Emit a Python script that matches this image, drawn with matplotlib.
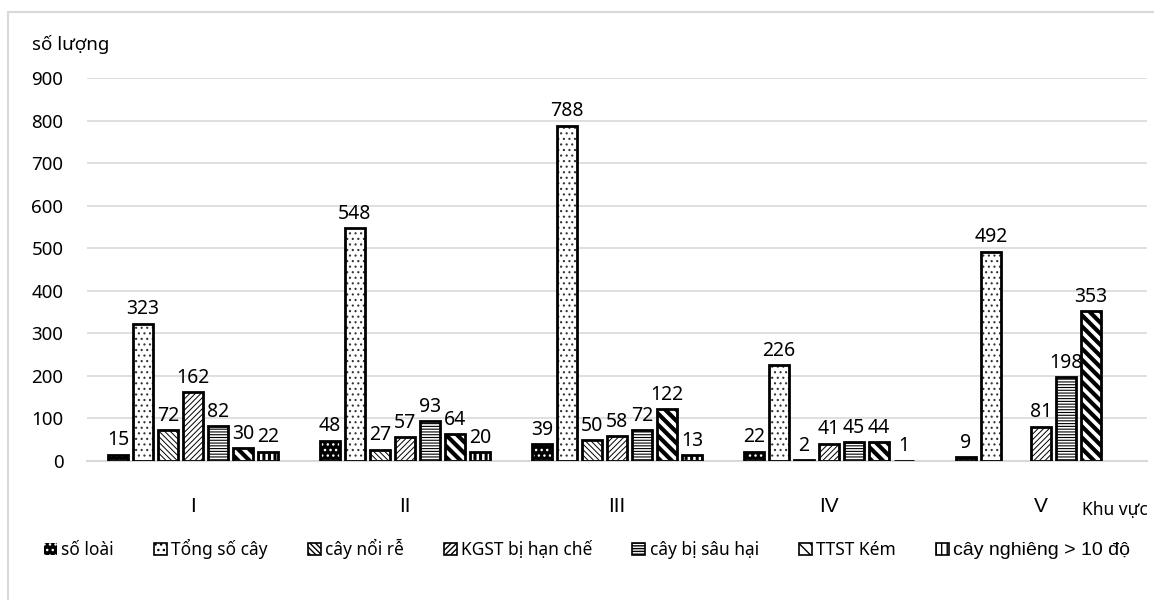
import numpy as np
import matplotlib
matplotlib.use("Agg")
import matplotlib.pyplot as plt
from matplotlib.patches import Patch, Rectangle

plt.rcParams['font.family'] = ['Noto Sans', 'DejaVu Sans']

regions = ["I", "II", "III", "IV", "V"]
series_names = ["số loài", "Tổng số cây", "cây nổi rễ", "KGST bị hạn chế",
                "cây bị sâu hại", "TTST Kém", "cây nghiêng > 10 độ"]

so_loai = [15, 48, 39, 22, 9]
tong_so_cay = [323, 548, 788, 226, 492]
cay_noi_re = [72, 27, 50, 2, np.nan]
kgst_han_che = [162, 57, 58, 41, 81]
cay_sau_hai = [82, 93, 72, 45, 198]
ttst_kem = [30, 64, 122, 44, 353]
cay_nghieng = [22, 20, 13, 1, np.nan]

series = [so_loai, tong_so_cay, cay_noi_re, kgst_han_che,
          cay_sau_hai, ttst_kem, cay_nghieng]

# (facecolor, hatch colour, hatch, hatch linewidth)
styles = [
    ("black", "white", "...", 1.0),
    ("white", "#333333", "...", 0.8),
    ("white", "black", "\\" * 6, 0.7),
    ("white", "black", "/" * 6, 0.7),
    ("white", "black", "-" * 6, 0.8),
    ("white", "black", "\\" * 3, 3.0),
    ("white", "black", "|" * 3, 2.2),
]

W, H = 1154, 600
fig = plt.figure(figsize=(W / 100, H / 100), dpi=100)
ax = fig.add_axes([87 / W, 1 - 461 / H, 1060 / W, 383 / H])

x = np.arange(len(regions))
n = len(series)
pitch = 0.118
width = 0.095
grid_c = "#d9d9d9"

for i, (vals, (fc, hc, hatch, hlw)) in enumerate(zip(series, styles)):
    pos = x + (i - (n - 1) / 2) * pitch
    vals = np.asarray(vals, dtype=float)
    with plt.rc_context({'hatch.linewidth': hlw}):
        hb = ax.bar(pos, vals, width, color=fc, edgecolor=hc, hatch=hatch,
                    linewidth=0, zorder=2)
        for p in hb.patches:
            if hasattr(p, "set_hatch_linewidth"):
                p.set_hatch_linewidth(hlw)
    fb = ax.bar(pos, vals, width, facecolor="none", edgecolor="black",
                linewidth=2.0, zorder=3)
    labels = ["" if np.isnan(v) else f"{int(v)}" for v in vals]
    ax.bar_label(fb, labels=labels, padding=3, fontsize=14)

ax.set_xlim(-0.5, len(regions) - 0.5)
ax.set_ylim(0, 900)
ax.set_yticks(np.arange(0, 901, 100))
ax.set_xticks(x)
ax.set_xticklabels(regions, fontsize=15,
                   fontfamily=["Liberation Sans", "DejaVu Sans"])
ax.tick_params(axis='y', length=0, pad=17, labelsize=13.5)
ax.tick_params(axis='x', length=0, pad=26)
ax.yaxis.grid(True, color=grid_c, linewidth=1.2, zorder=0)
ax.set_axisbelow(True)
for s in ["top", "right", "left"]:
    ax.spines[s].set_visible(False)
ax.spines["bottom"].set_color(grid_c)
ax.spines["bottom"].set_linewidth(1.5)

# outer chart frame
fig.patches.append(Rectangle((8 / W, -0.1), 1.2, 1 - 12 / H + 0.1,
                             transform=fig.transFigure, fill=False,
                             edgecolor=grid_c, linewidth=1.5))

fig.text(32 / W, 1 - 45 / H, "số lượng", fontsize=13.5, va="center", ha="left")
fig.text(1082 / W, 1 - 510 / H, "Khu vực", fontsize=12.5, va="center", ha="left")

handles = []
for (fc, hc, hatch, hlw) in styles:
    if fc == "black":
        handles.append(Patch(facecolor="black", edgecolor="white", hatch="...",
                             linewidth=0))
    else:
        handles.append(Patch(facecolor="white", edgecolor="black", hatch=hatch,
                             linewidth=1.2))
leg = fig.legend(handles, series_names, loc="center",
                 bbox_to_anchor=(587 / W, 1 - 549 / H), ncol=7, frameon=False,
                 fontsize=12.5, handlelength=0.75, handleheight=0.75,
                 handletextpad=0.25, columnspacing=2.3)
last = leg.get_texts()[-1]
last.set_fontfamily(["Liberation Sans", "DejaVu Sans"])
last.set_fontsize(14)

fig.savefig("out.png", dpi=100)
